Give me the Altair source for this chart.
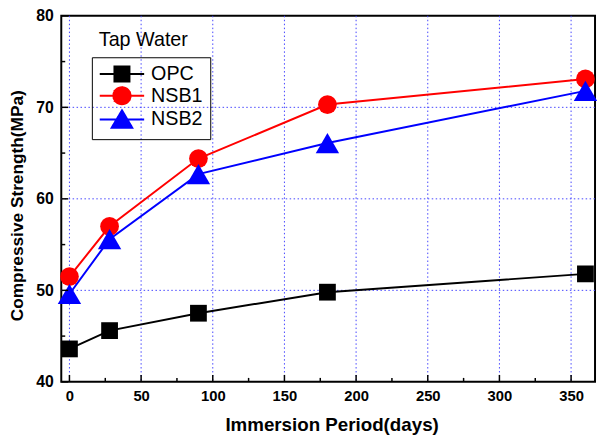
import altair as alt
import pandas as pd
import math

# ---- data ----
days = [0, 28, 90, 180, 360]
series_names = ["OPC", "NSB1", "NSB2"]
opc = [43.6, 45.6, 47.5, 49.8, 51.8]
nsb1 = [51.5, 57.0, 64.4, 70.3, 73.1]
nsb2 = [49.6, 55.6, 62.7, 66.1, 71.8]

series_colors = ["#000000", "#ff0000", "#0000ff"]
series_shapes = ["square", "circle", "triangle-up"]
series_sizes = [289, 361, 560]

x_major = [0, 50, 100, 150, 200, 250, 300, 350]
x_minor = [25, 75, 125, 175, 225, 275, 325]
y_major = [40, 50, 60, 70, 80]
y_minor = [45, 55, 65, 75]
y_grid = [50, 60, 70]

W, H = 541, 371
FONT = "Liberation Sans"


# legend glyphs (line + marker) as custom symbol paths; the marker is
# filled by closely spaced strokes because legend symbols take the stroke colour
def _hatch(xl, xr, y0, y1, step=0.17):
    pts, y, k = [], y0, 0
    while y <= y1 + 1e-9:
        a, b = xl(y), xr(y)
        pts += [(a, y), (b, y)] if k % 2 == 0 else [(b, y), (a, y)]
        y += step
        k += 1
    return "M" + "L".join("%.3f,%.3f" % p for p in pts)


CX = 1.6875
LINE = "M-1.125,0L4.5,0"
sq = 0.95
path_square = LINE + _hatch(lambda y: CX - sq, lambda y: CX + sq, -sq, sq) + \
    "M%.3f,%.3fL%.3f,%.3fL%.3f,%.3fL%.3f,%.3fZ" % (CX - sq, -sq, CX + sq, -sq, CX + sq, sq, CX - sq, sq)
rc = 1.08
path_circle = LINE + _hatch(lambda y: CX - math.sqrt(max(rc * rc - y * y, 0)),
                            lambda y: CX + math.sqrt(max(rc * rc - y * y, 0)), -rc, rc) + \
    "M" + "L".join("%.3f,%.3f" % (CX + rc * math.cos(2 * math.pi * i / 32), rc * math.sin(2 * math.pi * i / 32))
                   for i in range(32)) + "Z"
tt, tb, hw = -1.15, 1.05, 1.3
path_tri = LINE + _hatch(lambda y: CX - hw * (y - tt) / (tb - tt), lambda y: CX + hw * (y - tt) / (tb - tt), tt, tb) + \
    "M%.3f,%.3fL%.3f,%.3fL%.3f,%.3fZ" % (CX, tt, CX + hw, tb, CX - hw, tb)
legend_paths = [path_square, path_circle, path_tri]

rows = []
for name, vals in zip(series_names, [opc, nsb1, nsb2]):
    for d, v in zip(days, vals):
        rows.append({"series": name, "day": d, "strength": v})
df = pd.DataFrame(rows)

xs = alt.Scale(domain=[-5.7, 366.7], nice=False, zero=False)
ys = alt.Scale(domain=[40, 80], nice=False, zero=False)

x_axis = alt.Axis(
    title="Immersion Period(days)", values=x_major, grid=False, ticks=False, tickSize=0,
    domain=False, labelFont=FONT, labelFontWeight="bold", labelFontSize=15, labelPadding=7,
    labelColor="black", labelFlush=False, titleFont=FONT, titleFontSize=19,
    titleFontWeight="bold", titleColor="black", titleX=274, titleY=43, titleBaseline="middle",
)
y_axis = alt.Axis(
    title="Compressive Strength(MPa)", values=y_major, grid=False, ticks=False, tickSize=0,
    domain=False, labelFont=FONT, labelFontWeight="bold", labelFontSize=16, labelPadding=8,
    labelColor="black", labelFlush=False, titleFont=FONT, titleFontSize=17.5,
    titleFontWeight="bold", titleColor="black", titleX=-44, titleY=192, titleBaseline="middle",
    titleAngle=270,
)

X = lambda f: alt.X(f, scale=xs, axis=x_axis)
Y = lambda f: alt.Y(f, scale=ys, axis=y_axis)

leg = alt.Legend(
    orient="none", legendX=31, legendY=42, title=None, strokeColor="black", padding=7,
    labelFont=FONT, labelFontSize=20, labelColor="black", labelOffset=33,
    symbolSize=256, symbolStrokeWidth=2, rowPadding=-3, symbolOpacity=1,
)

grid_color = "#4444ff"
gx = alt.Chart(pd.DataFrame({"v": x_major})).mark_rule(
    color=grid_color, strokeWidth=1, strokeDash=[1.5, 2.5]
).encode(x=X("v:Q"))
gy = alt.Chart(pd.DataFrame({"v": y_grid})).mark_rule(
    color=grid_color, strokeWidth=1, strokeDash=[1.5, 2.5]
).encode(y=Y("v:Q"))

base = alt.Chart(df)
lines = base.mark_line(strokeWidth=2).encode(
    x=X("day:Q"), y=Y("strength:Q"),
    color=alt.Color("series:N", scale=alt.Scale(domain=series_names, range=series_colors), legend=leg),
)

point_layers = []
for name, shp, col, sz in zip(series_names, series_shapes, series_colors, series_sizes):
    point_layers.append(
        base.transform_filter(alt.datum.series == name).mark_point(
            shape=shp, filled=True, color=col, size=sz, opacity=1
        ).encode(x=X("day:Q"), y=Y("strength:Q"))
    )

legend_layer = base.mark_point(filled=False, opacity=0).encode(
    x=X("day:Q"), y=Y("strength:Q"),
    shape=alt.Shape("series:N", scale=alt.Scale(domain=series_names, range=legend_paths), legend=leg),
)

tick_x_major = alt.Chart(pd.DataFrame({"v": x_major})).mark_rule(color="black", strokeWidth=1.5).encode(
    x=X("v:Q"), y=alt.value(H), y2=alt.value(H - 7))
tick_x_minor = alt.Chart(pd.DataFrame({"v": x_minor})).mark_rule(color="black", strokeWidth=1.5).encode(
    x=X("v:Q"), y=alt.value(H), y2=alt.value(H - 4))
tick_y_major = alt.Chart(pd.DataFrame({"v": y_major})).mark_rule(color="black", strokeWidth=1.5).encode(
    y=Y("v:Q"), x=alt.value(0), x2=alt.value(7))
tick_y_minor = alt.Chart(pd.DataFrame({"v": y_minor})).mark_rule(color="black", strokeWidth=1.5).encode(
    y=Y("v:Q"), x=alt.value(0), x2=alt.value(4))

tap = alt.Chart(pd.DataFrame({"t": ["Tap Water"]})).mark_text(
    font=FONT, fontSize=20, color="black", align="left", baseline="middle"
).encode(text="t:N", x=alt.value(38), y=alt.value(25))

chart = alt.layer(
    gx, gy, lines, *point_layers, legend_layer,
    tick_x_major, tick_x_minor, tick_y_major, tick_y_minor, tap
).properties(
    width=W, height=H,
    autosize=alt.AutoSizeParams(type="none"),
    padding={"left": 54, "top": 5, "right": 2, "bottom": 56},
    background="white",
).configure_view(stroke="black", strokeWidth=2)

chart.save("out.html", embed_options={"renderer": "svg", "actions": False})
